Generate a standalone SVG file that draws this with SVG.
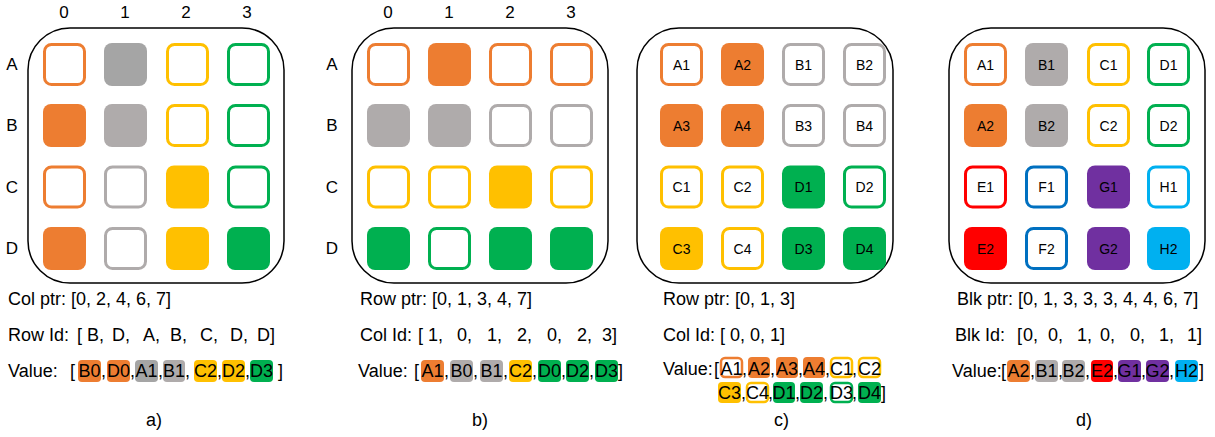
<svg xmlns="http://www.w3.org/2000/svg" width="1215" height="437" viewBox="0 0 1215 437">
<style>
text{font-family:"Liberation Sans",Arial,sans-serif;fill:#000}
.t{font-size:18px;white-space:pre}
.h{font-size:17px;text-anchor:middle}
.cl{font-size:14px;text-anchor:middle}
.ch{font-size:18px;text-anchor:middle}
.box{fill:#fff;stroke:#000;stroke-width:1.5}
.o{fill:#fff;stroke-width:3}
.f{stroke:none}
.ck{stroke-width:2.5}
.or{stroke:#ED7D31}.orf{fill:#ED7D31}
.gr{stroke:#AFABAB}.grf{fill:#AFABAB}.grd{fill:#A5A5A5}
.ye{stroke:#FFC000}.yef{fill:#FFC000}
.gn{stroke:#00B050}.gnf{fill:#00B050}
.rd{stroke:#FF0000}.rdf{fill:#FF0000}
.bl{stroke:#0070C0}
.pu{fill:#7030A0}
.cy{stroke:#00B0F0}.cyf{fill:#00B0F0}
</style>

<!-- Panel a -->
<g id="panel-a">
<rect class="box" x="28" y="28" width="256" height="255" rx="42"/>
<text class="h" x="64" y="18">0</text><text class="h" x="125" y="18">1</text><text class="h" x="186" y="18">2</text><text class="h" x="247" y="18">3</text>
<text class="h" x="12" y="70">A</text><text class="h" x="12" y="131">B</text><text class="h" x="12" y="193">C</text><text class="h" x="12" y="254">D</text>
<rect class="o or" x="44.5" y="44.5" width="40" height="40" rx="7"/>
<rect class="f grd" x="104" y="43" width="43" height="43" rx="8"/>
<rect class="o ye" x="167.5" y="44.5" width="40" height="40" rx="7"/>
<rect class="o gn" x="228.5" y="44.5" width="40" height="40" rx="7"/>
<rect class="f orf" x="43" y="104" width="43" height="43" rx="8"/>
<rect class="f grf" x="104" y="104" width="43" height="43" rx="8"/>
<rect class="o ye" x="167.5" y="105.5" width="40" height="40" rx="7"/>
<rect class="o gn" x="228.5" y="105.5" width="40" height="40" rx="7"/>
<rect class="o or" x="44.5" y="167" width="40" height="40" rx="7"/>
<rect class="o gr" x="105.5" y="167" width="40" height="40" rx="7"/>
<rect class="f yef" x="166" y="165.5" width="43" height="43" rx="8"/>
<rect class="o gn" x="228.5" y="167" width="40" height="40" rx="7"/>
<rect class="f orf" x="43" y="227" width="43" height="43" rx="8"/>
<rect class="o gr" x="105.5" y="228.5" width="40" height="40" rx="7"/>
<rect class="f yef" x="166" y="227" width="43" height="43" rx="8"/>
<rect class="f gnf" x="227" y="227" width="43" height="43" rx="8"/>
<text class="t" x="8" y="305">Col ptr: [0, 2, 4, 6, 7]</text>
<text class="t" x="8" y="341">Row Id:</text>
<text class="t" x="77" y="341">[</text>
<text class="t" x="87" y="341">B,</text><text class="t" x="112" y="341">D,</text><text class="t" x="143" y="341">A,</text><text class="t" x="170" y="341">B,</text><text class="t" x="200" y="341">C,</text><text class="t" x="230" y="341">D,</text><text class="t" x="257" y="341">D]</text>
<text class="t" x="8" y="377">Value:</text><text class="t" x="70" y="377">[</text>
<rect class="orf" x="78" y="360" width="23" height="22" rx="4"/><text class="ch" x="89.5" y="377">B0</text><text class="t" x="101" y="377">,</text>
<rect class="orf" x="107" y="360" width="23" height="22" rx="4"/><text class="ch" x="118.5" y="377">D0</text><text class="t" x="130" y="377">,</text>
<rect class="grd" x="135" y="360" width="23" height="22" rx="4"/><text class="ch" x="146.5" y="377">A1</text><text class="t" x="158" y="377">,</text>
<rect class="grf" x="163" y="360" width="22" height="22" rx="4"/><text class="ch" x="174" y="377">B1</text><text class="t" x="185" y="377">,</text>
<rect class="yef" x="194" y="360" width="23" height="22" rx="4"/><text class="ch" x="205.5" y="377">C2</text><text class="t" x="217" y="377">,</text>
<rect class="yef" x="222" y="360" width="23" height="22" rx="4"/><text class="ch" x="233.5" y="377">D2</text><text class="t" x="245" y="377">,</text>
<rect class="gnf" x="250" y="360" width="23" height="22" rx="4"/><text class="ch" x="261.5" y="377">D3</text><text class="t" x="278" y="377">]</text>
<text class="t" x="146" y="426">a)</text>
</g>

<!-- Panel b -->
<g id="panel-b">
<rect class="box" x="352" y="28" width="256" height="255" rx="42"/>
<text class="h" x="388" y="18">0</text><text class="h" x="449" y="18">1</text><text class="h" x="510" y="18">2</text><text class="h" x="571" y="18">3</text>
<text class="h" x="332" y="70">A</text><text class="h" x="332" y="131">B</text><text class="h" x="332" y="193">C</text><text class="h" x="332" y="254">D</text>
<rect class="o or" x="368.5" y="44.5" width="40" height="40" rx="7"/>
<rect class="f orf" x="428" y="43" width="43" height="43" rx="8"/>
<rect class="o or" x="490.5" y="44.5" width="40" height="40" rx="7"/>
<rect class="o or" x="551.5" y="44.5" width="40" height="40" rx="7"/>
<rect class="f grf" x="367" y="104" width="43" height="43" rx="8"/>
<rect class="f grf" x="428" y="104" width="43" height="43" rx="8"/>
<rect class="o gr" x="490.5" y="105.5" width="40" height="40" rx="7"/>
<rect class="o gr" x="551.5" y="105.5" width="40" height="40" rx="7"/>
<rect class="o ye" x="368.5" y="167" width="40" height="40" rx="7"/>
<rect class="o ye" x="429.5" y="167" width="40" height="40" rx="7"/>
<rect class="f yef" x="489" y="165.5" width="43" height="43" rx="8"/>
<rect class="o ye" x="551.5" y="167" width="40" height="40" rx="7"/>
<rect class="f gnf" x="367" y="227" width="43" height="43" rx="8"/>
<rect class="o gn" x="429.5" y="228.5" width="40" height="40" rx="7"/>
<rect class="f gnf" x="489" y="227" width="43" height="43" rx="8"/>
<rect class="f gnf" x="550" y="227" width="43" height="43" rx="8"/>
<text class="t" x="360" y="305">Row ptr: [0, 1, 3, 4, 7]</text>
<text class="t" x="360" y="341">Col Id:</text>
<text class="t" x="418" y="341">[</text>
<text class="t" x="428" y="341">1,</text><text class="t" x="457" y="341">0,</text><text class="t" x="487" y="341">1,</text><text class="t" x="517" y="341">2,</text><text class="t" x="547" y="341">0,</text><text class="t" x="577" y="341">2,</text><text class="t" x="602" y="341">3]</text>
<text class="t" x="358" y="377">Value:</text><text class="t" x="414" y="377">[</text>
<rect class="orf" x="421" y="360" width="23" height="22" rx="4"/><text class="ch" x="432.5" y="377">A1</text><text class="t" x="444" y="377">,</text>
<rect class="grf" x="450" y="360" width="23" height="22" rx="4"/><text class="ch" x="461.5" y="377">B0</text><text class="t" x="473" y="377">,</text>
<rect class="grf" x="480" y="360" width="23" height="22" rx="4"/><text class="ch" x="491.5" y="377">B1</text><text class="t" x="503" y="377">,</text>
<rect class="yef" x="509" y="360" width="23" height="22" rx="4"/><text class="ch" x="520.5" y="377">C2</text><text class="t" x="532" y="377">,</text>
<rect class="gnf" x="538" y="360" width="23" height="22" rx="4"/><text class="ch" x="549.5" y="377">D0</text><text class="t" x="561" y="377">,</text>
<rect class="gnf" x="566" y="360" width="23" height="22" rx="4"/><text class="ch" x="577.5" y="377">D2</text><text class="t" x="589" y="377">,</text>
<rect class="gnf" x="595" y="360" width="23" height="22" rx="4"/><text class="ch" x="606.5" y="377">D3</text><text class="t" x="618" y="377">]</text>
<text class="t" x="472" y="426">b)</text>
</g>

<!-- Panel c -->
<g id="panel-c">
<rect class="box" x="637" y="28" width="256" height="255" rx="42"/>
<rect class="o or" x="661.5" y="44.5" width="40" height="40" rx="7"/><text class="cl" x="681.5" y="69.5">A1</text>
<rect class="f orf" x="721" y="43" width="43" height="43" rx="8"/><text class="cl" x="742.5" y="69.5">A2</text>
<rect class="o gr" x="783.5" y="44.5" width="40" height="40" rx="7"/><text class="cl" x="803.5" y="69.5">B1</text>
<rect class="o gr" x="844.5" y="44.5" width="40" height="40" rx="7"/><text class="cl" x="864.5" y="69.5">B2</text>
<rect class="f orf" x="660" y="104" width="43" height="43" rx="8"/><text class="cl" x="681.5" y="130.5">A3</text>
<rect class="f orf" x="721" y="104" width="43" height="43" rx="8"/><text class="cl" x="742.5" y="130.5">A4</text>
<rect class="o gr" x="783.5" y="105.5" width="40" height="40" rx="7"/><text class="cl" x="803.5" y="130.5">B3</text>
<rect class="o gr" x="844.5" y="105.5" width="40" height="40" rx="7"/><text class="cl" x="864.5" y="130.5">B4</text>
<rect class="o ye" x="661.5" y="167" width="40" height="40" rx="7"/><text class="cl" x="681.5" y="192">C1</text>
<rect class="o ye" x="722.5" y="167" width="40" height="40" rx="7"/><text class="cl" x="742.5" y="192">C2</text>
<rect class="f gnf" x="782" y="165.5" width="43" height="43" rx="8"/><text class="cl" x="803.5" y="192">D1</text>
<rect class="o gn" x="844.5" y="167" width="40" height="40" rx="7"/><text class="cl" x="864.5" y="192">D2</text>
<rect class="f yef" x="660" y="227" width="43" height="43" rx="8"/><text class="cl" x="681.5" y="253.5">C3</text>
<rect class="o ye" x="722.5" y="228.5" width="40" height="40" rx="7"/><text class="cl" x="742.5" y="253.5">C4</text>
<rect class="f gnf" x="782" y="227" width="43" height="43" rx="8"/><text class="cl" x="803.5" y="253.5">D3</text>
<rect class="f gnf" x="843" y="227" width="43" height="43" rx="8"/><text class="cl" x="864.5" y="253.5">D4</text>
<text class="t" x="663" y="305">Row ptr: [0, 1, 3]</text>
<text class="t" x="663" y="341">Col Id: [ 0, 0, 1]</text>
<text class="t" x="663" y="375">Value:</text><text class="t" x="714" y="375">[</text>
<rect class="ck or" fill="#fff" x="721" y="358" width="21" height="19" rx="4"/><text class="ch" x="731.5" y="375">A1</text><text class="t" x="742" y="375">,</text>
<rect class="orf" x="748" y="357" width="22" height="21" rx="4"/><text class="ch" x="759" y="375">A2</text><text class="t" x="770" y="375">,</text>
<rect class="orf" x="776" y="357" width="22" height="21" rx="4"/><text class="ch" x="787" y="375">A3</text><text class="t" x="798" y="375">,</text>
<rect class="orf" x="803" y="357" width="22" height="21" rx="4"/><text class="ch" x="814" y="375">A4</text><text class="t" x="825" y="375">,</text>
<rect class="ck ye" fill="#fff" x="831" y="358" width="21" height="19" rx="4"/><text class="ch" x="841.5" y="375">C1</text><text class="t" x="852" y="375">,</text>
<rect class="ck ye" fill="#fff" x="859" y="358" width="21" height="19" rx="4"/><text class="ch" x="869.5" y="375">C2</text>
<rect class="yef" x="718" y="382" width="23" height="21" rx="4"/><text class="ch" x="729.5" y="399">C3</text><text class="t" x="741" y="399">,</text>
<rect class="ck ye" fill="#fff" x="747" y="383" width="21" height="19" rx="4"/><text class="ch" x="757.5" y="399">C4</text><text class="t" x="768" y="399">,</text>
<rect class="gnf" x="773" y="382" width="22" height="21" rx="4"/><text class="ch" x="784" y="399">D1</text><text class="t" x="795" y="399">,</text>
<rect class="gnf" x="800" y="382" width="23" height="21" rx="4"/><text class="ch" x="811.5" y="399">D2</text><text class="t" x="823" y="399">,</text>
<rect class="ck gn" fill="#fff" x="831" y="383" width="21" height="19" rx="4"/><text class="ch" x="841.5" y="399">D3</text><text class="t" x="852" y="399">,</text>
<rect class="gnf" x="858" y="382" width="23" height="21" rx="4"/><text class="ch" x="869.5" y="399">D4</text><text class="t" x="881" y="399">]</text>
<text class="t" x="774" y="426">c)</text>
</g>

<!-- Panel d -->
<g id="panel-d">
<rect class="box" x="949" y="28" width="256" height="255" rx="42"/>
<rect class="o or" x="965.5" y="44.5" width="40" height="40" rx="7"/><text class="cl" x="985.5" y="69.5">A1</text>
<rect class="f grf" x="1025" y="43" width="43" height="43" rx="8"/><text class="cl" x="1046.5" y="69.5">B1</text>
<rect class="o ye" x="1088.5" y="44.5" width="40" height="40" rx="7"/><text class="cl" x="1108.5" y="69.5">C1</text>
<rect class="o gn" x="1148.5" y="44.5" width="40" height="40" rx="7"/><text class="cl" x="1168.5" y="69.5">D1</text>
<rect class="f orf" x="964" y="104" width="43" height="43" rx="8"/><text class="cl" x="985.5" y="130.5">A2</text>
<rect class="f grf" x="1025" y="104" width="43" height="43" rx="8"/><text class="cl" x="1046.5" y="130.5">B2</text>
<rect class="o ye" x="1088.5" y="105.5" width="40" height="40" rx="7"/><text class="cl" x="1108.5" y="130.5">C2</text>
<rect class="o gn" x="1148.5" y="105.5" width="40" height="40" rx="7"/><text class="cl" x="1168.5" y="130.5">D2</text>
<rect class="o rd" x="965.5" y="167" width="40" height="40" rx="7"/><text class="cl" x="985.5" y="192">E1</text>
<rect class="o bl" x="1026.5" y="167" width="40" height="40" rx="7"/><text class="cl" x="1046.5" y="192">F1</text>
<rect class="f pu" x="1087" y="165.5" width="43" height="43" rx="8"/><text class="cl" x="1108.5" y="192">G1</text>
<rect class="o cy" x="1148.5" y="167" width="40" height="40" rx="7"/><text class="cl" x="1168.5" y="192">H1</text>
<rect class="f rdf" x="964" y="227" width="43" height="43" rx="8"/><text class="cl" x="985.5" y="253.5">E2</text>
<rect class="o bl" x="1026.5" y="228.5" width="40" height="40" rx="7"/><text class="cl" x="1046.5" y="253.5">F2</text>
<rect class="f pu" x="1087" y="227" width="43" height="43" rx="8"/><text class="cl" x="1108.5" y="253.5">G2</text>
<rect class="f cyf" x="1147" y="227" width="43" height="43" rx="8"/><text class="cl" x="1168.5" y="253.5">H2</text>
<text class="t" x="957" y="305">Blk ptr: [0, 1, 3, 3, 3, 4, 4, 6, 7]</text>
<text class="t" x="955" y="341">Blk Id:</text>
<text class="t" x="1017" y="341">[</text>
<text class="t" x="1023" y="341">0,</text><text class="t" x="1048" y="341">0,</text><text class="t" x="1077" y="341">1,</text><text class="t" x="1100" y="341">0,</text><text class="t" x="1130" y="341">0,</text><text class="t" x="1159" y="341">1,</text><text class="t" x="1187" y="341">1]</text>
<text class="t" x="952" y="377">Value:</text><text class="t" x="1001" y="377">[</text>
<rect class="orf" x="1007" y="360" width="23" height="22" rx="4"/><text class="ch" x="1018.5" y="377">A2</text><text class="t" x="1030" y="377">,</text>
<rect class="grf" x="1035" y="360" width="23" height="22" rx="4"/><text class="ch" x="1046.5" y="377">B1</text><text class="t" x="1058" y="377">,</text>
<rect class="grf" x="1062" y="360" width="23" height="22" rx="4"/><text class="ch" x="1073.5" y="377">B2</text><text class="t" x="1085" y="377">,</text>
<rect class="rdf" x="1091" y="360" width="22" height="22" rx="4"/><text class="ch" x="1102" y="377">E2</text><text class="t" x="1113" y="377">,</text>
<rect class="pu" x="1118" y="360" width="23" height="22" rx="4"/><text class="ch" x="1129.5" y="377">G1</text><text class="t" x="1141" y="377">,</text>
<rect class="pu" x="1146" y="360" width="23" height="22" rx="4"/><text class="ch" x="1157.5" y="377">G2</text><text class="t" x="1169" y="377">,</text>
<rect class="cyf" x="1175" y="360" width="23" height="22" rx="4"/><text class="ch" x="1186.5" y="377">H2</text><text class="t" x="1199" y="377">]</text>
<text class="t" x="1076" y="426">d)</text>
</g>
</svg>
